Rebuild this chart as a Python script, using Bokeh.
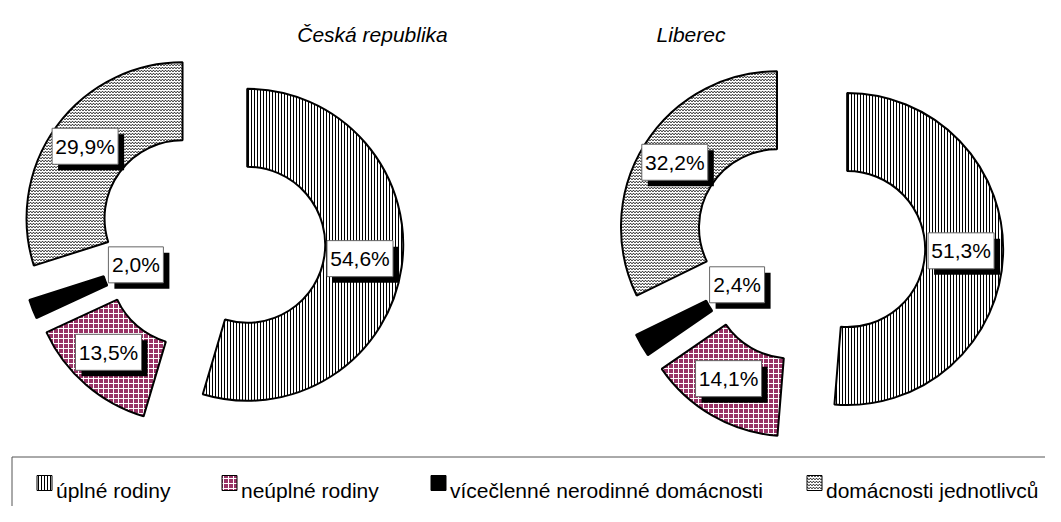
import math
from bokeh.plotting import figure
from bokeh.models import Range1d, ColumnDataSource
from bokeh.core.properties import value
from bokeh.embed import file_html
from bokeh.resources import INLINE

# ---------------- data ----------------
categories = ["úplné rodiny", "neúplné rodiny",
              "vícečlenné nerodinné domácnosti", "domácnosti jednotlivců"]
cr_values = [54.6, 13.5, 2.0, 29.9]
liberec_values = [51.3, 14.1, 2.4, 32.2]
titles = ["Česká republika", "Liberec"]

# ---------------- layout / style ----------------
W, H = 1045, 506
FONT = value("Liberation Sans")


def py(y):
    """picture pixel y -> data y (y axis points up)"""
    return H - y


p = figure(width=W, height=H, x_range=Range1d(0, W), y_range=Range1d(0, H),
           output_backend="svg", toolbar_location=None, min_border=0)
p.axis.visible = False
p.grid.visible = False
p.outline_line_color = None
p.background_fill_color = "white"
p.border_fill_color = "white"

styles = [
    dict(fill_color="white", hatch_pattern="vertical_line", hatch_color="black",
         hatch_scale=3, hatch_weight=1),
    dict(fill_color="#993366", hatch_pattern="cross", hatch_color="white",
         hatch_scale=5, hatch_weight=1),
    dict(fill_color="black", hatch_pattern="blank"),
    dict(fill_color="white", hatch_pattern="horizontal_wave", hatch_color="black",
         hatch_scale=3, hatch_weight=1),
]

R_OUT, R_IN = 156, 78
charts = [
    dict(values=cr_values, cx=211.1, cy=239.1, d=36, title=titles[0], tx=372),
    dict(values=liberec_values, cx=808.7, cy=247.0, d=38, title=titles[1], tx=690.5),
]

label_rows = dict(x=[], y=[], sx=[], sy=[], w=[], text=[])

for ch in charts:
    theta = 0.0
    cx, cy = ch["cx"], py(ch["cy"])
    for i, v in enumerate(ch["values"]):
        sweep = v / 100.0 * 360.0
        t1, t2 = theta, theta + sweep
        mid = math.radians((t1 + t2) / 2)
        ux, uy = math.sin(mid), math.cos(mid)
        sx, sy = cx + ch["d"] * ux, cy + ch["d"] * uy
        p.annular_wedge(x=[sx], y=[sy], inner_radius=R_IN, outer_radius=R_OUT,
                        start_angle=math.radians(90 - t2), end_angle=math.radians(90 - t1),
                        line_color="black", line_width=2, **styles[i])
        lr = (R_OUT + R_IN) / 2 if v >= 5 else 42
        lx, ly = sx + lr * ux - 3, sy + lr * uy + 3
        txt = ("%.1f" % v).replace(".", ",") + "%"
        label_rows["x"].append(lx)
        label_rows["y"].append(ly)
        label_rows["sx"].append(lx + 6)
        label_rows["sy"].append(ly - 6)
        label_rows["w"].append(11 * len(txt) + 11)
        label_rows["text"].append(txt)
        theta = t2
    p.text(x=[ch["tx"]], y=[py(34)], text=[ch["title"]], text_font=FONT,
           text_font_size="21px", text_font_style="italic", text_align="center",
           text_baseline="alphabetic", text_color="black")

lsrc = ColumnDataSource(label_rows)
p.rect(x="sx", y="sy", width="w", height=36, source=lsrc, fill_color="black", line_color=None)
p.rect(x="x", y="y", width="w", height=36, source=lsrc, fill_color="white",
       line_color="#666666", line_width=1)
p.text(x="x", y="y", text="text", source=lsrc, text_font=FONT, text_font_size="21px",
       text_align="center", text_baseline="middle", text_color="black")

# ---------------- legend ----------------
LEG_TOP = 456.5
p.quad(left=[11.5], right=[1080], top=[py(LEG_TOP)], bottom=[py(560)],
       fill_color=None, line_color="#555555", line_width=1)
sw_left = [36, 221, 430, 806]
for i, cat in enumerate(categories):
    p.quad(left=[sw_left[i] + 0.5], right=[sw_left[i] + 15.5],
           top=[py(LEG_TOP + 18.5)], bottom=[py(LEG_TOP + 33.5)],
           line_color="black", line_width=1, **styles[i])
    p.text(x=[sw_left[i] + 19.5], y=[py(LEG_TOP + 33.5)], text=[cat], text_font=FONT,
           text_font_size="21px", text_align="left", text_baseline="alphabetic",
           text_color="black")

open("out.html", "w").write(file_html(p, INLINE))
